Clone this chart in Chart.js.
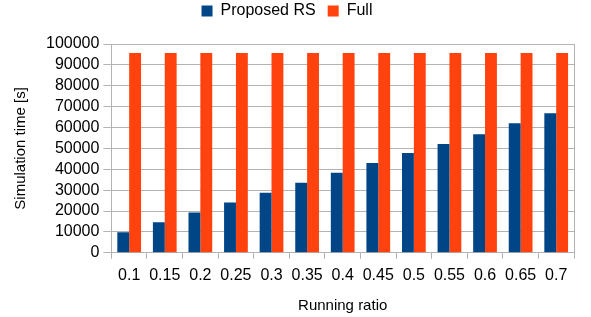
<!DOCTYPE html>
<html>
<head>
<meta charset="utf-8">
<script src="https://cdn.jsdelivr.net/npm/chart.js"></script>
<style>
  html, body { margin: 0; padding: 0; background: #ffffff; }
  #wrap { width: 591px; height: 317px; }
</style>
</head>
<body>
<div id="wrap"><canvas id="grafico" width="591" height="317"></canvas></div>
<script>
// dados
const razoes = ['0.1', '0.15', '0.2', '0.25', '0.3', '0.35', '0.4', '0.45', '0.5', '0.55', '0.6', '0.65', '0.7'];
const tempoProposto = [9800, 14600, 19300, 24100, 28800, 33600, 38300, 43000, 47800, 52100, 56800, 62000, 66800];
const tempoCompleto = [95700, 95700, 95700, 95700, 95700, 95700, 95700, 95700, 95700, 95700, 95700, 95700, 95700];
const ticksY = [0, 10000, 20000, 30000, 40000, 50000, 60000, 70000, 80000, 90000, 100000];

const corGrade = '#b3b3b3';
const fonte = 'Liberation Sans';

// espaço extra entre a legenda e a área do gráfico, e legenda um pouco à esquerda
const ajusteLegenda = {
    id: 'ajusteLegenda',
    beforeInit(chart) {
        const fitOriginal = chart.legend.fit;
        chart.legend.fit = function () {
            fitOriginal.bind(chart.legend)();
            this.height += 15;
        };
    },
    afterLayout(chart) {
        chart.legend.left -= 6;
        chart.legend.right -= 6;
    }
};

const ctx = document.getElementById('grafico').getContext('2d');
new Chart(ctx, {
    type: 'bar',
    data: {
        labels: razoes,
        datasets: [{
            label: 'Proposed RS',
            data: tempoProposto,
            backgroundColor: '#004586'
        }, {
            label: 'Full',
            data: tempoCompleto,
            backgroundColor: '#ff420e'
        }]
    },
    options: {
        responsive: false,
        animation: false,
        layout: { padding: { left: 12, right: 17, top: -9, bottom: 2 } },
        datasets: {
            bar: { categoryPercentage: 0.667, barPercentage: 1.0 }
        },
        scales: {
            x: {
                offset: true,
                grid: {
                    offset: true,
                    drawOnChartArea: false,
                    drawTicks: true,
                    tickLength: 6,
                    color: corGrade
                },
                border: { color: corGrade, width: 1 },
                ticks: {
                    color: '#000000',
                    font: { family: fonte, size: 16 },
                    padding: 7,
                    maxRotation: 0,
                    autoSkip: false
                },
                title: {
                    display: true,
                    text: 'Running ratio',
                    color: '#000000',
                    font: { family: fonte, size: 15 },
                    padding: { top: 5, bottom: 0 }
                }
            },
            y: {
                min: 0,
                max: 100000,
                afterBuildTicks: axis => {
                    axis.ticks = ticksY.map(v => ({ value: v }));
                },
                grid: {
                    color: corGrade,
                    tickLength: 8
                },
                border: { color: corGrade, width: 1 },
                ticks: {
                    color: '#000000',
                    font: { family: fonte, size: 16 },
                    padding: 4,
                    autoSkip: false,
                    callback: v => String(v)
                },
                title: {
                    display: true,
                    text: 'Simulation time [s]',
                    color: '#000000',
                    font: { family: fonte, size: 15 },
                    padding: { top: 0, bottom: 12 }
                }
            },
            y2: {
                position: 'right',
                min: 0,
                max: 100000,
                grid: { drawOnChartArea: false, drawTicks: false },
                border: { color: corGrade, width: 1 },
                ticks: { display: false }
            }
        },
        plugins: {
            legend: {
                position: 'top',
                labels: {
                    color: '#000000',
                    font: { family: fonte, size: 16 },
                    boxWidth: 11,
                    boxHeight: 11,
                    padding: 12
                }
            },
            tooltip: { enabled: false }
        }
    },
    plugins: [ajusteLegenda]
});
</script>
</body>
</html>
